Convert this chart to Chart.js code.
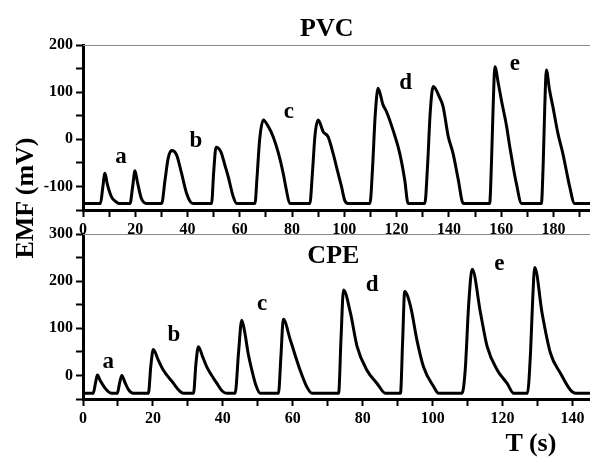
<!DOCTYPE html>
<html>
<head>
<meta charset="utf-8">
<script src="https://cdn.jsdelivr.net/npm/chart.js@4"></script>
<style>
html,body{margin:0;padding:0;background:#fff;}
#wrap{position:relative;width:590px;height:457px;overflow:hidden;}
#wrap canvas{position:absolute;left:0;top:0;}
.lbl{position:absolute;font:bold 26px "Liberation Serif","Times New Roman",serif;line-height:26px;color:#000;white-space:nowrap;}
#ylab{left:-55px;top:185px;width:160px;text-align:center;transform:rotate(-90deg);}
#xlab{left:481px;top:430px;width:100px;text-align:center;}
</style>
</head>
<body>
<div id="wrap">
  <canvas id="pvc" width="590" height="457"></canvas>
  <canvas id="cpe" width="590" height="457"></canvas>
  <div class="lbl" id="ylab">EMF (mV)</div>
  <div class="lbl" id="xlab">T (s)</div>
</div>
<script>
// PVC electrode response (top panel)
const pvcTime = [0, 6.7, 7.5, 8.4, 9.3, 10.9, 12.5, 13.8,
  18.0, 19.0, 19.9, 20.8, 22.3, 24.3,
  30.1, 31.4, 32.6, 33.9, 35.8, 37.7, 39.6, 41.0, 42.2,
  49.2, 50.0, 50.9, 52.8, 54.3, 55.6, 57.5, 58.8,
  65.8, 66.6, 67.6, 69.0, 70.9, 72.8, 74.8, 76.6, 77.8, 79.1,
  86.8, 87.8, 88.8, 90.0, 91.9, 93.8, 95.7, 97.6, 98.9, 100.1, 101.4,
  109.8, 110.8, 111.8, 112.9, 114.8, 116.1, 118.6, 121.2, 123.1, 124.4,
  130.8, 131.8, 132.9, 134.0, 136.6, 137.8, 139.8, 141.6, 143.6, 145.5,
  155.6, 156.3, 157.0, 157.6, 158.9, 160.1, 162.1, 163.3, 164.6, 165.8, 167.8,
  175.4, 176.1, 176.7, 177.3, 178.5, 179.8, 181.7, 183.6, 184.9, 186.2, 188.1, 194];
const pvcEmf = [-136, -136, -105, -72, -95, -122, -132, -136,
  -136, -100, -67, -90, -125, -136,
  -136, -86, -40, -24, -33, -72, -114, -132, -136,
  -136, -70, -17, -27, -55, -80, -122, -136,
  -136, -80, 0, 41, 27, 5, -30, -72, -107, -136,
  -136, -70, 10, 41, 16, 5, -30, -72, -100, -129, -136,
  -136, -60, 50, 108, 73, 59, 20, -30, -86, -136,
  -136, -60, 60, 112, 87, 69, 5, -30, -86, -136,
  -136, -50, 80, 154, 119, 83, 27, -16, -58, -93, -136,
  -136, -50, 70, 147, 105, 69, 13, -30, -65, -100, -136, -136];

// CPE electrode response (bottom panel)
const cpeTime = [0, 2.9, 3.6, 4.1, 5.0, 6.3, 7.3, 8.2,
  9.8, 10.5, 11.1, 12.0, 13.0, 14.4,
  18.7, 19.4, 20.1, 21.5, 23.0, 25.9, 27.5, 28.7,
  31.6, 32.3, 33.0, 34.2, 35.4, 38.3, 39.8, 41.1,
  43.5, 44.5, 45.4, 46.3, 47.2, 48.3, 49.5, 50.7,
  55.9, 56.6, 57.3, 59.3, 62.1, 64.0, 65.5,
  73.1, 73.8, 74.5, 76.5, 78.4, 81.2, 84.1, 86.5,
  90.8, 91.4, 92.0, 93.7, 95.5, 97.4, 100.3, 101.7,
  108.4, 109.3, 110.3, 111.3, 113.7, 115.6, 118.5, 121.3, 123.2,
  127.1, 128.0, 128.6, 129.2, 131.3, 133.7, 136.6, 139.4, 140.9, 145];
const cpeEmf = [-38, -38, -15, 1, -12, -27, -35, -38,
  -38, -15, 0, -15, -30, -38,
  -38, 20, 55, 33, 11, -17, -32, -38,
  -38, 25, 61, 40, 18, -17, -33, -38,
  -38, 50, 117, 90, 48, 11, -22, -38,
  -38, 40, 119, 75, 11, -24, -38,
  -38, 80, 181, 132, 61, 11, -17, -38,
  -38, 70, 178, 146, 75, 18, -24, -38,
  -38, 10, 150, 225, 132, 61, 11, -17, -38,
  -38, 50, 160, 229, 132, 47, 4, -31, -38, -38];

// text marks inside each panel, placed in data units
const pvcMarkText = ["PVC", "a", "b", "c", "d", "e"];
const pvcMarkT    = [93.3, 14.5, 43.2, 78.8, 123.5, 165.2];
const pvcMarkEmf  = [219, -50, -16, 45, 106, 147];
const cpeMarkText = ["CPE", "a", "b", "c", "d", "e"];
const cpeMarkT    = [71.6, 7.2, 26.0, 51.2, 82.7, 119.1];
const cpeMarkEmf  = [238, 16, 73, 139, 180, 224];

Chart.defaults.font.family = '"Liberation Serif", "Times New Roman", serif';
Chart.defaults.color = "#000";

const tickFont = { size: 16, weight: "bold" };

// thin grey frame line along the top of each plot + the letter marks
const panelDeco = {
  id: "panelDeco",
  afterDatasetsDraw(chart, args, opts){
    const ctx = chart.ctx, a = chart.chartArea;
    ctx.save();
    ctx.strokeStyle = "#8a8a8a";
    ctx.lineWidth = 1;
    ctx.beginPath();
    ctx.moveTo(a.left, a.top + 0.5);
    ctx.lineTo(a.right, a.top + 0.5);
    ctx.stroke();
    ctx.fillStyle = "#000";
    ctx.textAlign = "center";
    ctx.textBaseline = "alphabetic";
    opts.text.forEach((s, i)=>{
      ctx.font = (i === 0 ? "bold 26px " : "bold 23px ") + Chart.defaults.font.family;
      ctx.fillText(s, chart.scales.x.getPixelForValue(opts.t[i]), chart.scales.y.getPixelForValue(opts.v[i]));
    });
    ctx.restore();
  }
};

function panel(canvasId, xs, ys, xMax, yMin, yMax, padTop, padBottom, marks){
  return new Chart(document.getElementById(canvasId), {
    type: "line",
    data: { datasets: [{ data: xs.map((x, i)=>({ x, y: ys[i] })) }] },
    plugins: [panelDeco],
    options: {
      responsive: false,
      animation: false,
      layout: { padding: { top: padTop, bottom: padBottom, left: 0, right: 0 } },
      elements: {
        point: { radius: 0 },
        line: { borderColor: "#000", borderWidth: 3, cubicInterpolationMode: "monotone", borderJoinStyle: "round" }
      },
      plugins: { legend: { display: false }, tooltip: { enabled: false }, panelDeco: marks },
      scales: {
        x: {
          type: "linear", min: 0, max: xMax,
          ticks: { stepSize: 10, includeBounds: false, autoSkip: false, maxRotation: 0, padding: 3,
                   font: tickFont, callback: v => v % 20 === 0 ? String(v) : "" },
          grid: { drawOnChartArea: false, tickLength: 7, tickWidth: 2, tickColor: "#000" },
          border: { color: "#000", width: 3 },
          afterFit: s => { s.height = 30; }
        },
        y: {
          min: yMin, max: yMax,
          ticks: { stepSize: 50, includeBounds: false, autoSkip: false, padding: 3,
                   font: tickFont, callback: v => v % 100 === 0 ? String(v) : "" },
          grid: { drawOnChartArea: false, tickLength: 7, tickWidth: 2, tickColor: "#000" },
          border: { color: "#000", width: 3 },
          afterFit: s => { s.width = 83; }
        }
      }
    }
  });
}

panel("pvc", pvcTime, pvcEmf, 194, -150, 200, 45, 217,
  { text: pvcMarkText, t: pvcMarkT, v: pvcMarkEmf });
panel("cpe", cpeTime, cpeEmf, 145, -50, 300, 234, 28,
  { text: cpeMarkText, t: cpeMarkT, v: cpeMarkEmf });
</script>
</body>
</html>
